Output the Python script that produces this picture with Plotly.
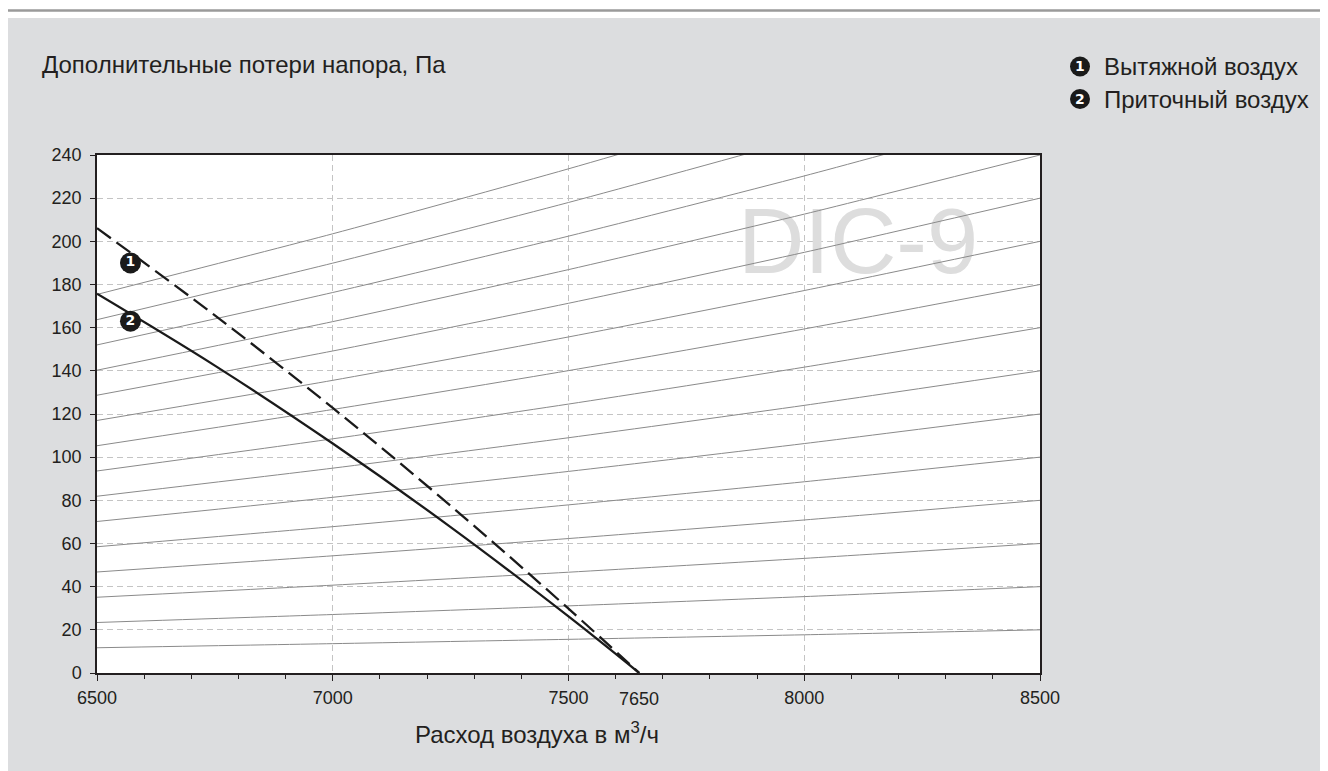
import plotly.graph_objects as go

# ---------------- data ----------------
flow_grid = [6500, 7000, 7500, 8000, 8500]
system_curves = [
    [11.7, 13.6, 15.6, 17.7, 20.0],
    [23.4, 27.1, 31.1, 35.4, 40.0],
    [35.1, 40.7, 46.7, 53.1, 60.0],
    [46.8, 54.3, 62.3, 70.9, 80.0],
    [58.5, 67.8, 77.9, 88.6, 100.0],
    [70.2, 81.4, 93.4, 106.3, 120.0],
    [81.9, 94.9, 109.0, 124.0, 140.0],
    [93.6, 108.5, 124.6, 141.7, 160.0],
    [105.3, 122.1, 140.1, 159.4, 180.0],
    [117.0, 135.6, 155.7, 177.2, 200.0],
    [128.7, 149.2, 171.3, 194.9, 220.0],
    [140.3, 162.8, 186.9, 212.6, 240.0],
    [152.0, 176.3, 202.4, 230.3, 260.0],
    [163.7, 189.9, 218.0, 248.0, 280.0],
    [175.4, 203.5, 233.6, 265.7, 300.0],
]

exhaust_flow = [6500, 6750, 7000, 7250, 7500, 7650]
exhaust_pa = [206.1, 165.7, 122.8, 77.5, 29.8, 0.0]
supply_flow = [6500, 6750, 7000, 7250, 7500, 7650]
supply_pa = [175.7, 142.4, 106.3, 67.6, 26.2, 0.0]

curve_label_flow = [6571, 6571]
curve_label_pa = [190, 163]
curve_label_text = ["1", "2"]

legend_names = ["Вытяжной воздух", "Приточный воздух"]
x_tick_vals = [6500, 7000, 7500, 8000, 8500]
x_tick_text = ["6500", "7000", "7500", "8000", "8500"]
extra_x_tick = 7650
y_tick_vals = [0, 20, 40, 60, 80, 100, 120, 140, 160, 180, 200, 220, 240]

watermark_text = "DIC-9"
watermark_flow = [8114]
watermark_pa = [196]

title_text = "Дополнительные потери напора, Па"
x_title_text = "Расход воздуха в м<sup>3</sup>/ч"

# ---------------- style / geometry (figure pixel coordinates) ----------------
W, H = 1328, 771
L, R, T, B = 89, 1032, 147, 665
FONT = "Liberation Sans, Arial, Helvetica, sans-serif"
TXT = "#231f20"
PANEL = "#dcdddf"


def px(p):
    return (p - L) / (R - L)


def py(p):
    return (B - p) / (B - T)


fig = go.Figure()

# watermark beneath everything
fig.add_trace(go.Scatter(
    x=watermark_flow, y=watermark_pa, mode="text", text=[watermark_text],
    textposition="middle center",
    textfont=dict(family=FONT, size=92, color="#dddddd"),
    hoverinfo="skip", cliponaxis=False))

for vals in system_curves:
    fig.add_trace(go.Scatter(
        x=flow_grid, y=vals, mode="lines",
        line=dict(color="#8a8a8a", width=1, shape="spline", smoothing=0.6),
        hoverinfo="skip"))

fig.add_trace(go.Scatter(
    x=supply_flow, y=supply_pa, mode="lines",
    line=dict(color="#1a1a1a", width=2.3, shape="spline", smoothing=1.0),
    name=legend_names[1]))
fig.add_trace(go.Scatter(
    x=exhaust_flow, y=exhaust_pa, mode="lines",
    line=dict(color="#1a1a1a", width=2.3, dash="17px,7px", shape="spline", smoothing=1.0),
    name=legend_names[0]))

fig.add_trace(go.Scatter(
    x=curve_label_flow, y=curve_label_pa, mode="markers+text",
    text=curve_label_text, textposition="middle center",
    marker=dict(size=21, color="#1a1a1a", line=dict(width=0)),
    textfont=dict(family="DejaVu Sans, Arial", size=14, color="white", weight="bold"),
    hoverinfo="skip", cliponaxis=False))

shapes = [
    # white strip with grey rule on top of the panel
    dict(type="rect", xref="paper", yref="paper", x0=px(-5), x1=px(W + 5), y0=py(10), y1=py(-5),
         fillcolor="white", line=dict(width=0), layer="above"),
    dict(type="line", xref="paper", yref="paper", x0=px(0), x1=px(W + 5), y0=py(2.5), y1=py(2.5),
         line=dict(color="#9a9a9a", width=2.5), layer="above"),
]

annotations = [
    dict(text=title_text, xref="paper", yref="paper", x=px(32), y=py(57),
         xanchor="left", yanchor="middle", showarrow=False,
         font=dict(family=FONT, size=24, color=TXT)),
    dict(text=x_title_text, xref="paper", yref="paper", x=px(529), y=py(725),
         xanchor="center", yanchor="middle", showarrow=False,
         font=dict(family=FONT, size=24, color=TXT)),
    dict(text=str(extra_x_tick), xref="x", yref="paper", x=extra_x_tick, y=py(691),
         xanchor="center", yanchor="middle", showarrow=False,
         font=dict(family=FONT, size=18, color=TXT)),
]

legend_rows_y = [58.5, 91]
for i, (name, ry) in enumerate(zip(legend_names, legend_rows_y)):
    shapes.append(dict(type="circle", xref="paper", yref="paper",
                       xsizemode="pixel", ysizemode="pixel",
                       xanchor=px(1072), yanchor=py(ry),
                       x0=-10, x1=10, y0=-10, y1=10,
                       fillcolor="#1a1a1a", line=dict(width=0), layer="above"))
    annotations.append(dict(text=curve_label_text[i], xref="paper", yref="paper",
                            x=px(1072), y=py(ry), xanchor="center", yanchor="middle",
                            showarrow=False,
                            font=dict(family="DejaVu Sans, Arial", size=14, color="white", weight="bold")))
    annotations.append(dict(text=name, xref="paper", yref="paper", x=px(1094), y=py(ry),
                            xanchor="left", yanchor="middle", showarrow=False,
                            font=dict(family=FONT, size=24, color=TXT)))

grid_style = dict(showgrid=True, gridcolor="#c4c4c4", gridwidth=1, griddash="6px,4px",
                  zeroline=False, showline=True, linecolor=TXT, linewidth=1.5, mirror=True,
                  ticks="outside", tickcolor=TXT, tickwidth=1,
                  tickfont=dict(family=FONT, size=18, color=TXT))

fig.update_xaxes(range=[6500, 8500], tickvals=x_tick_vals, ticktext=x_tick_text,
                 ticklen=6, ticklabelstandoff=2,
                 minor=dict(dtick=100, tick0=6500, ticks="outside", ticklen=4,
                            tickcolor=TXT, showgrid=False),
                 **grid_style)
fig.update_yaxes(range=[0, 240], tickvals=y_tick_vals, ticklen=5, ticklabelstandoff=5,
                 **grid_style)

# inner half of the major x ticks (they cross the axis line in the reference)
fig.update_layout(xaxis2=dict(overlaying="x", anchor="y", side="bottom", range=[6500, 8500],
                              tickvals=x_tick_vals, ticks="inside", ticklen=5,
                              tickcolor=TXT, tickwidth=1, showticklabels=False,
                              showgrid=False, showline=False, zeroline=False))

fig.update_layout(width=W, height=H, margin=dict(l=L, r=W - R, t=T, b=H - B),
                  paper_bgcolor=PANEL, plot_bgcolor="white", showlegend=False,
                  font=dict(family=FONT, color=TXT),
                  shapes=shapes, annotations=annotations)

fig.write_html("out.html")
